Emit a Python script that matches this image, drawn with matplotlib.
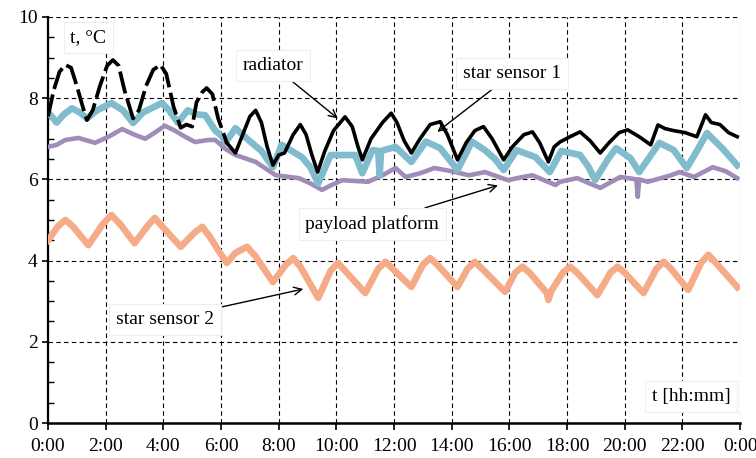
import matplotlib.pyplot as plt
from matplotlib.ticker import MultipleLocator, FixedLocator

plt.rcParams['font.family'] = ['Liberation Serif', 'DejaVu Serif']

# time in hours, temperature in deg C
rad_t = [0.0, 0.2, 0.4, 0.6, 0.8, 1.0, 1.2, 1.35, 1.55, 1.8, 2.05, 2.25, 2.45, 2.65, 2.95,
         3.15, 3.4, 3.65, 3.9, 4.1, 4.35, 4.6, 4.8, 5.0, 5.15, 5.35, 5.5, 5.7, 5.9, 6.2,
         6.5, 6.75, 7.0, 7.2, 7.4, 7.6, 7.8, 8.0, 8.2, 8.5, 8.75, 8.95, 9.15, 9.35, 9.6,
         9.9, 10.3, 10.55, 10.75, 10.9, 11.2, 11.6, 11.9, 12.1, 12.35, 12.6, 12.9, 13.25,
         13.6, 13.85, 14.2, 14.5, 14.8, 15.1, 15.4, 15.8, 16.1, 16.5, 16.8, 17.05, 17.35,
         17.55, 17.75, 18.1, 18.45, 18.8, 19.15, 19.45, 19.8, 20.1, 20.5, 20.9, 21.15,
         21.4, 21.7, 22.1, 22.5, 22.8, 23.0, 23.3, 23.6, 23.9]
rad_v = [7.55, 8.2, 8.65, 8.82, 8.75, 8.3, 7.8, 7.46, 7.7, 8.3, 8.8, 8.94, 8.8, 8.2, 7.5,
         7.7, 8.3, 8.7, 8.82, 8.6, 7.8, 7.27, 7.35, 7.3, 7.9, 8.15, 8.25, 8.1, 7.5, 6.9,
         6.65, 7.1, 7.55, 7.7, 7.4, 6.8, 6.35, 6.6, 6.65, 7.1, 7.35, 7.1, 6.6, 6.18, 6.7,
         7.2, 7.54, 7.3, 6.8, 6.48, 7.0, 7.4, 7.63, 7.4, 6.95, 6.65, 7.0, 7.35,
         7.42, 7.1, 6.48, 6.9, 7.2, 7.3, 7.0, 6.48, 6.8, 7.1, 7.17, 6.9, 6.43,
         6.8, 6.92, 7.05, 7.17, 6.95, 6.65, 6.9, 7.15, 7.22, 7.05, 6.85, 7.34,
         7.25, 7.2, 7.15, 7.05, 7.59, 7.4, 7.35, 7.15, 7.05]

ss1_t = [0.0, 0.3, 0.55, 0.83, 1.1, 1.35, 1.7, 2.2, 2.6, 2.95, 3.3, 3.95, 4.2, 4.5, 4.85,
         5.15, 5.45, 5.8, 6.05, 6.15, 6.5, 6.95, 7.4, 7.8, 8.1, 8.45, 8.8, 9.1, 9.37, 9.8,
         10.65, 10.9, 11.25, 11.45, 11.5, 11.55, 12.05, 12.6, 13.1, 13.6, 13.9, 14.2, 14.7,
         15.15, 15.5, 15.8, 16.25, 16.9, 17.4, 17.8, 18.45, 18.75, 18.97, 19.4, 19.7, 20.2,
         20.5, 21.2, 21.7, 22.15, 22.5, 22.85, 23.4, 23.9]
ss1_v = [7.66, 7.4, 7.6, 7.75, 7.65, 7.5, 7.7, 7.88, 7.7, 7.39, 7.65, 7.88, 7.7, 7.4, 7.7,
         7.6, 7.58, 7.2, 7.05, 6.9, 7.26, 6.97, 6.7, 6.3, 6.85, 6.7, 6.55, 6.3, 5.9, 6.6,
         6.6, 6.15, 6.72, 6.7, 6.1, 6.7, 6.8, 6.43, 6.93, 6.77, 6.5, 6.23, 6.93,
         6.72, 6.5, 6.23, 6.72, 6.55, 6.18, 6.7, 6.6, 6.3, 5.98, 6.48, 6.77, 6.52,
         6.18, 6.9, 6.72, 6.28, 6.7, 7.14, 6.75, 6.35]

pay_t = [0.0, 0.3, 0.6, 1.05, 1.63, 2.1, 2.57, 3.0, 3.37, 3.7, 4.05, 4.4, 4.75, 5.1, 5.55,
         5.8, 6.15, 6.5, 7.2, 7.9, 8.7, 9.1, 9.5, 9.8, 10.2, 11.1, 11.6, 12.05, 12.4, 12.9,
         13.4, 14.0, 14.6, 15.15, 15.95, 16.4, 16.8, 17.6, 17.75, 18.35, 19.15, 19.85,
         20.4, 20.45, 20.5, 20.8, 21.6, 21.9, 22.4, 23.05, 23.5, 23.9]
pay_v = [6.8, 6.85, 6.97, 7.02, 6.9, 7.05, 7.24, 7.1, 7.0, 7.15, 7.32, 7.2, 7.05, 6.92, 6.97,
         6.97, 6.75, 6.6, 6.43, 6.1, 6.03, 5.9, 5.74, 5.85, 5.98, 5.94, 6.1, 6.28, 6.06, 6.15,
         6.28, 6.2, 6.1, 6.18, 5.98, 6.05, 6.1, 5.86, 5.94, 6.03, 5.79, 6.06,
         6.0, 5.57, 6.0, 5.94, 6.1, 6.18, 6.06, 6.3, 6.2, 6.03]

ss2_t = [0.0, 0.35, 0.6, 0.85, 1.4, 1.9, 2.2, 2.5, 3.0, 3.45, 3.7, 3.95, 4.6, 5.1, 5.35,
         5.6, 5.9, 6.2, 6.5, 6.9, 7.2, 7.8, 8.25, 8.5, 8.75, 9.37, 9.8, 10.05, 10.3, 11.0,
         11.45, 11.7, 11.95, 12.6, 13.0, 13.25, 13.5, 14.2, 14.55, 14.8, 15.05, 15.85,
         16.2, 16.45, 16.7, 17.3, 17.35, 17.45, 17.85, 18.1, 18.35, 19.05, 19.5, 19.75,
         20.0, 20.65, 21.1, 21.35, 21.6, 22.2, 22.65, 22.9, 23.15, 23.9]
ss2_v = [4.5, 4.85, 5.0, 4.85, 4.38, 4.9, 5.12, 4.9, 4.43, 4.85, 5.05, 4.85, 4.34, 4.7, 4.83,
         4.6, 4.26, 3.94, 4.19, 4.34, 4.1, 3.47, 3.9, 4.06, 3.85, 3.08, 3.75, 3.94, 3.75, 3.2,
         3.8, 3.97, 3.8, 3.35, 3.9, 4.06, 3.9, 3.35, 3.8, 3.97, 3.8, 3.23,
         3.7, 3.85, 3.7, 3.2, 3.03, 3.25, 3.7, 3.85, 3.7, 3.15, 3.7, 3.85,
         3.7, 3.2, 3.8, 3.97, 3.8, 3.28, 3.95, 4.14, 3.95, 3.35]

xticks = list(range(0, 25, 2))
xlabels = ['0:00', '2:00', '4:00', '6:00', '8:00', '10:00', '12:00', '14:00', '16:00',
           '18:00', '20:00', '22:00', '0:00']

fig = plt.figure(figsize=(7.56, 4.58), dpi=100)
ax = fig.add_axes([0.0635, 0.0764, 0.9155, 0.8866])

ax.plot(pay_t, pay_v, color='#a08cb8', lw=3.3, zorder=3)
ax.plot(ss1_t, ss1_v, color='#80bccd', lw=4.8, zorder=4)
# radiator looks dashed during the first hours
split = 30
ax.plot(rad_t[:split], rad_v[:split], color='black', lw=2.7, dashes=(6, 1.5), zorder=5)
ax.plot(rad_t[split - 1:], rad_v[split - 1:], color='black', lw=2.6, zorder=5)
ax.plot(ss2_t, ss2_v, color='#f5ab87', lw=4.8, zorder=3)

ax.set_xlim(0, 24)
ax.set_ylim(0, 10)
ax.xaxis.set_major_locator(FixedLocator(xticks))
ax.set_xticklabels(xlabels)
ax.yaxis.set_major_locator(MultipleLocator(2))
ax.yaxis.set_minor_locator(MultipleLocator(0.5))
ax.tick_params(axis='x', direction='out', length=5, width=1.2, labelsize=14, pad=6)
ax.tick_params(axis='y', which='major', direction='out', length=4, width=1.2, labelsize=14)
ax.tick_params(axis='y', which='minor', direction='in', length=4, width=1)
ax.grid(True, which='major', color='black', ls=(0, (4, 3)), lw=0.8)
ax.spines['top'].set_visible(False)
ax.spines['right'].set_visible(False)
ax.spines['left'].set_linewidth(1.6)
ax.spines['bottom'].set_linewidth(1.8)
ax.set_axisbelow(True)

box = dict(boxstyle='square,pad=0.35', facecolor='white', edgecolor='#eeeeee', lw=0.8)
arrow = dict(arrowstyle='->', color='black', lw=1.0, shrinkA=0, shrinkB=0)

ax.text(1.4, 9.5, 't, °C', fontsize=14, ha='center', va='center', bbox=box, zorder=6)
ax.text(22.3, 0.65, 't [hh:mm]', fontsize=14, ha='center', va='center', bbox=box, zorder=6)
ax.annotate('radiator', xy=(10.05, 7.5), xytext=(7.8, 8.8), fontsize=14,
            ha='center', va='center', bbox=box, arrowprops=arrow, zorder=6)
ax.annotate('star sensor 1', xy=(13.5, 7.17), xytext=(16.1, 8.6), fontsize=14,
            ha='center', va='center', bbox=box, arrowprops=arrow, zorder=6)
ax.annotate('payload platform', xy=(15.6, 5.85), xytext=(11.25, 4.9), fontsize=14,
            ha='center', va='center', bbox=box, arrowprops=arrow, zorder=6)
ax.annotate('star sensor 2', xy=(8.85, 3.3), xytext=(4.05, 2.55), fontsize=14,
            ha='center', va='center', bbox=box, arrowprops=arrow, zorder=6)

fig.savefig('out.png', dpi=100)
